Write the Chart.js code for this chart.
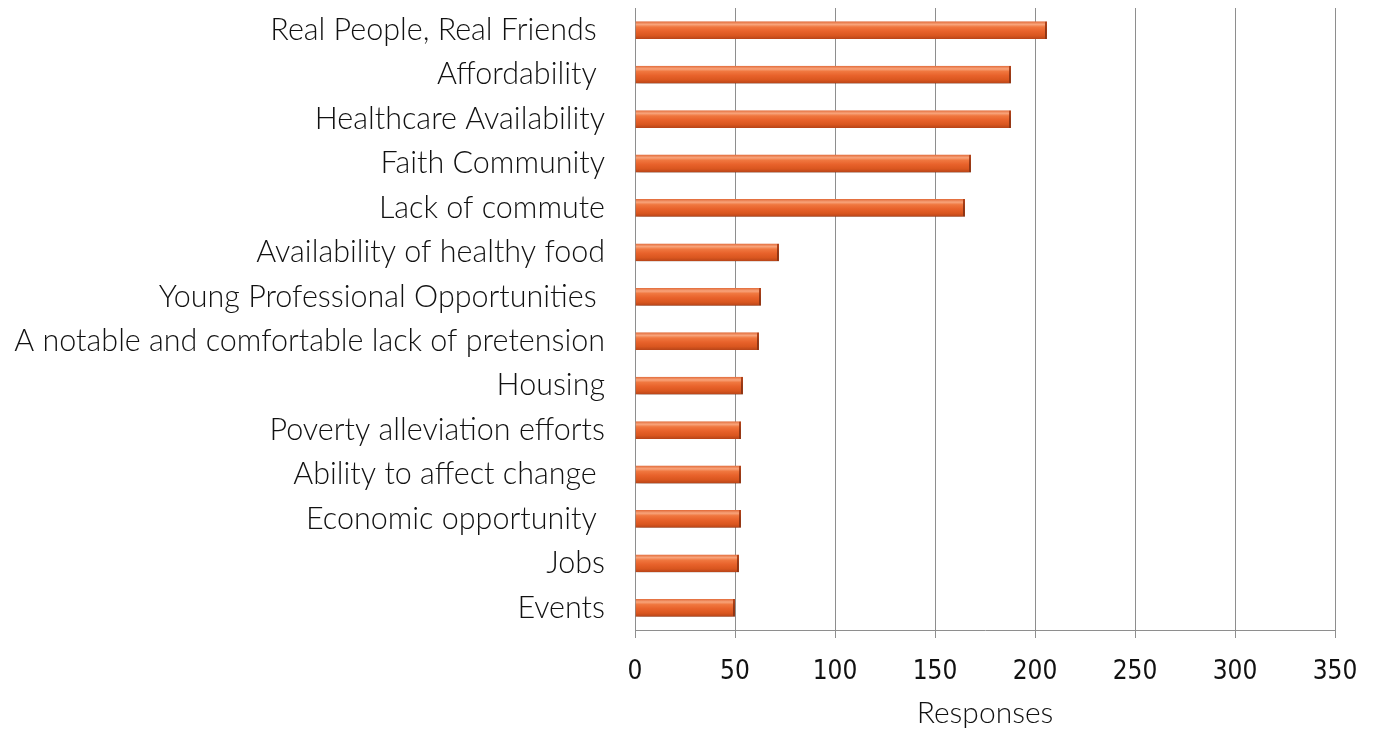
<!DOCTYPE html>
<html>
<head>
<meta charset="utf-8">
<script src="https://cdn.jsdelivr.net/npm/chart.js@4.4.1/dist/chart.umd.min.js"></script>
<style>
  html, body { margin: 0; padding: 0; background: #fff; }
  #wrap { width: 1380px; height: 731px; }
</style>
</head>
<body>
<div id="wrap"><canvas id="my-Chart" width="1380" height="731"></canvas></div>
<script>
// categorias e respostas
const categorias = [
    'Real People, Real Friends ',
    'Affordability ',
    'Healthcare Availability',
    'Faith Community',
    'Lack of commute',
    'Availability of healthy food',
    'Young Professional Opportunities ',
    'A notable and comfortable lack of pretension',
    'Housing',
    'Poverty alleviation efforts',
    'Ability to affect change ',
    'Economic opportunity ',
    'Jobs',
    'Events'
];
const respostas = [206, 188, 188, 168, 165, 72, 63, 62, 54, 53, 53, 53, 52, 50];
const xTicks = [0, 50, 100, 150, 200, 250, 300, 350];

const fonteLabel = "'Lato', 'Liberation Sans', sans-serif";

// gradiente de cada barra, calculado a partir da escala y
function barGradient(context) {
    const chart = context.chart;
    const yScale = chart.scales.y;
    if (!yScale || context.dataIndex === undefined) return '#E8602C';
    const yc = yScale.getPixelForValue(context.dataIndex);
    if (!isFinite(yc)) return '#E8602C';
    const h = 9;
    const g = chart.ctx.createLinearGradient(0, yc - h, 0, yc + h);
    g.addColorStop(0, '#E06634');
    g.addColorStop(0.18, '#F8A47B');
    g.addColorStop(0.32, '#F0773F');
    g.addColorStop(0.55, '#E8622B');
    g.addColorStop(0.8, '#D9561F');
    g.addColorStop(1, '#B54318');
    return g;
}

// sombra das barras
const sombraPlugin = {
    id: 'sombra',
    beforeDatasetDraw(chart) {
        const ctx = chart.ctx;
        ctx.save();
        ctx.shadowColor = 'rgba(0,0,0,0.4)';
        ctx.shadowBlur = 6;
        ctx.shadowOffsetY = 5;
        ctx.shadowOffsetX = 1;
    },
    afterDatasetDraw(chart) {
        chart.ctx.restore();
    }
};

const ctx = document.querySelector('#my-Chart');
const myChart = new Chart(ctx, {
    type: 'bar',
    data: {
        labels: categorias,
        datasets: [{
            label: 'Responses',
            data: respostas,
            backgroundColor: barGradient,
            borderColor: '#B5441A',
            borderWidth: { right: 2, top: 0, bottom: 0, left: 0 },
            barPercentage: 1,
            categoryPercentage: 0.4
        }]
    },
    plugins: [sombraPlugin],
    options: {
        indexAxis: 'y',
        responsive: false,
        animation: false,
        devicePixelRatio: 1,
        layout: { padding: { left: 0, right: 45, top: 8, bottom: 0 } },
        plugins: {
            legend: { display: false },
            tooltip: { enabled: false }
        },
        scales: {
            x: {
                min: 0,
                max: 350,
                afterBuildTicks(scale) {
                    scale.ticks = xTicks.map(v => ({ value: v }));
                },
                grid: {
                    color: '#8E8E8E',
                    lineWidth: 1,
                    tickLength: 8,
                    drawTicks: true
                },
                border: { color: '#8E8E8E', width: 1 },
                ticks: {
                    color: '#111',
                    padding: 19,
                    font: { family: "'Liberation Sans Narrow', 'DejaVu Sans Condensed', 'Liberation Sans', sans-serif", size: 26 }
                },
                title: {
                    display: true,
                    text: 'Responses',
                    color: '#111',
                    padding: { top: 16, bottom: 0 },
                    font: { family: fonteLabel, size: 30, weight: '300' }
                },
                afterFit(scale) { scale.height = 101; }
            },
            y: {
                grid: { display: false },
                border: { display: true, color: '#8E8E8E' },
                ticks: {
                    color: '#111',
                    padding: 22,
                    autoSkip: false,
                    font: { family: fonteLabel, size: 30.5, weight: '300' }
                },
                afterFit(scale) {
                    scale.width = 635;
                    scale.paddingTop = 0;
                    scale.paddingBottom = 0;
                }
            }
        }
    }
});
</script>
</body>
</html>
